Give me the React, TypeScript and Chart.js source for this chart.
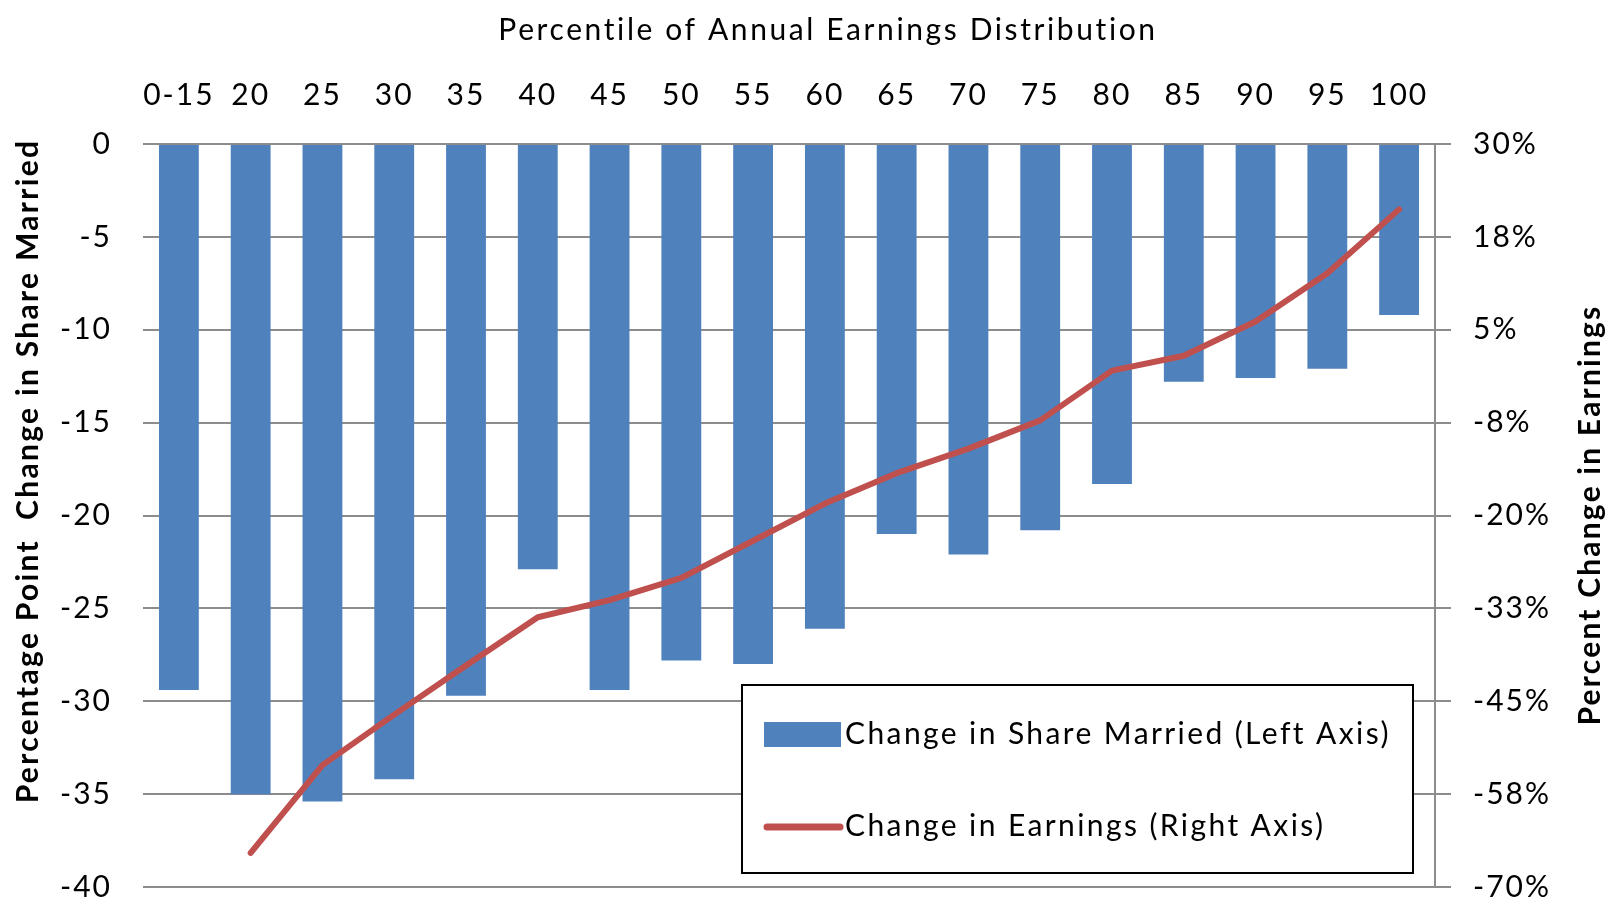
import React, { useEffect, useRef } from "react";
import { Chart, registerables } from "chart.js";

Chart.register(...registerables);

// ---------- data ----------
const categories = ["0-15", "20", "25", "30", "35", "40", "45", "50", "55", "60", "65", "70", "75", "80", "85", "90", "95", "100"];
const shareMarriedChange = [-29.4, -35.0, -35.4, -34.2, -29.7, -22.9, -29.4, -27.8, -28.0, -26.1, -21.0, -22.1, -20.8, -18.3, -12.8, -12.6, -12.1, -9.2];
const earningsChange = [null, -65.4, -53.6, -46.8, -40.2, -33.7, -31.4, -28.4, -23.4, -18.4, -14.3, -11.0, -7.2, -0.5, 1.5, 6.1, 12.6, 21.2];
const leftTickValues = [0, -5, -10, -15, -20, -25, -30, -35, -40];
const rightTickLabels = ["30%", "18%", "5%", "-8%", "-20%", "-33%", "-45%", "-58%", "-70%"];
const seriesLabels = ["Change in Share Married (Left Axis)", "Change in Earnings (Right Axis)"];
const chartTitle = "Percentile of Annual Earnings Distribution";
const leftAxisTitle = "Percentage Point  Change in Share Married";
const rightAxisTitle = "Percent Change in Earnings";

// ---------- style ----------
const BAR_COLOR = "#4F81BD";
const LINE_COLOR = "#C0504D";
const GRID_COLOR = "#8C8C8C";
const TEXT_COLOR = "#000000";
const FONT = "Lato";
const TICK_SIZE = 30;

const W = 1606;
const H = 900;

const spacingPlugin = {
  id: "spacing",
  beforeDraw(chart: any) {
    (chart.ctx as any).letterSpacing = "2px";
  },
};

const overlayPlugin = {
  id: "overlay",
  afterDraw(chart: any) {
    const ctx = chart.ctx as any;
    ctx.save();
    ctx.fillStyle = TEXT_COLOR;
    ctx.textAlign = "center";
    ctx.textBaseline = "middle";
    ctx.font = `normal 30px ${FONT}`;
    ctx.letterSpacing = "2.6px";
    ctx.fillText(chartTitle, 828, 30);

    ctx.font = `bold 30px ${FONT}`;
    ctx.letterSpacing = "2.3px";
    ctx.save();
    ctx.translate(28, 471);
    ctx.rotate(-Math.PI / 2);
    ctx.fillText(leftAxisTitle, 0, 0);
    ctx.restore();

    ctx.letterSpacing = "2.2px";
    ctx.save();
    ctx.translate(1590, 515);
    ctx.rotate(-Math.PI / 2);
    ctx.fillText(rightAxisTitle, 0, 0);
    ctx.restore();

    // legend
    const lx = 742, ly = 685, lw = 671, lh = 188;
    ctx.fillStyle = "#ffffff";
    ctx.fillRect(lx, ly, lw, lh);
    ctx.strokeStyle = "#000000";
    ctx.lineWidth = 2;
    ctx.strokeRect(lx, ly, lw, lh);

    ctx.fillStyle = BAR_COLOR;
    ctx.fillRect(764, 722, 77, 25);
    ctx.strokeStyle = LINE_COLOR;
    ctx.lineWidth = 7;
    ctx.lineCap = "round";
    ctx.beginPath();
    ctx.moveTo(767, 827);
    ctx.lineTo(840, 827);
    ctx.stroke();

    ctx.fillStyle = TEXT_COLOR;
    ctx.textAlign = "left";
    ctx.font = `normal 30px ${FONT}`;
    ctx.letterSpacing = "2.4px";
    ctx.fillText(seriesLabels[0], 845, 734);
    ctx.fillText(seriesLabels[1], 845, 826);
    ctx.restore();
    ctx.letterSpacing = "0px";
  },
};

function zeroPad(scale: any) {
  scale.paddingTop = 0;
  scale.paddingBottom = 0;
  scale.paddingLeft = 0;
  scale.paddingRight = 0;
}

export default function App() {
  const ref = useRef<HTMLCanvasElement | null>(null);

  useEffect(() => {
    if (!ref.current) return;
    const chart = new Chart(ref.current, {
      type: "bar",
      data: {
        labels: categories,
        datasets: [
          {
            type: "line",
            label: seriesLabels[1],
            data: earningsChange as any,
            borderColor: LINE_COLOR,
            backgroundColor: LINE_COLOR,
            borderWidth: 6,
            pointRadius: 0,
            tension: 0,
            borderJoinStyle: "round",
            borderCapStyle: "round",
            yAxisID: "y1",
            order: 0,
          } as any,
          {
            type: "bar",
            label: seriesLabels[0],
            data: shareMarriedChange,
            backgroundColor: BAR_COLOR,
            borderWidth: 0,
            barPercentage: 0.555,
            categoryPercentage: 1,
            yAxisID: "y",
            order: 1,
          },
        ],
      },
      options: {
        responsive: false,
        animation: false,
        layout: { padding: { left: 0, right: 0, top: 0, bottom: 13 } },
        plugins: {
          legend: { display: false },
          title: { display: false },
          tooltip: { enabled: false },
        },
        scales: {
          x: {
            type: "category",
            position: "top",
            offset: true,
            grid: { display: false, drawTicks: false },
            border: { display: false },
            ticks: {
              color: TEXT_COLOR,
              font: { family: FONT, size: TICK_SIZE },
              padding: 31,
              maxRotation: 0,
              autoSkip: false,
            },
            afterFit(scale: any) {
              scale.height = 144;
              zeroPad(scale);
            },
          },
          y: {
            position: "left",
            min: -40,
            max: 0,
            afterBuildTicks(scale: any) {
              scale.ticks = leftTickValues.map((v) => ({ value: v }));
            },
            grid: { color: GRID_COLOR, lineWidth: 2, drawTicks: false },
            border: { display: false },
            ticks: {
              color: TEXT_COLOR,
              font: { family: FONT, size: TICK_SIZE },
              padding: 31,
            },
            afterFit(scale: any) {
              scale.width = 143;
              zeroPad(scale);
            },
          },
          y1: {
            position: "right",
            min: -70,
            max: 30,
            ticks: {
              stepSize: 12.5,
              color: TEXT_COLOR,
              font: { family: FONT, size: TICK_SIZE },
              padding: 22,
              callback: (value: any) => rightTickLabels[Math.round((30 - Number(value)) / 12.5)],
            },
            grid: {
              drawOnChartArea: false,
              drawTicks: true,
              tickLength: 16,
              color: GRID_COLOR,
              lineWidth: 2,
            },
            border: { display: true, color: GRID_COLOR, width: 2 },
            afterFit(scale: any) {
              scale.width = W - 1435;
              zeroPad(scale);
            },
          },
        },
      },
      plugins: [spacingPlugin, overlayPlugin],
    });
    return () => chart.destroy();
  }, []);

  return (
    <div style={{ position: "fixed", left: 0, top: 0, width: W, height: H, background: "#ffffff" }}>
      <canvas ref={ref} width={W} height={H} style={{ width: W, height: H, display: "block" }} />
    </div>
  );
}
